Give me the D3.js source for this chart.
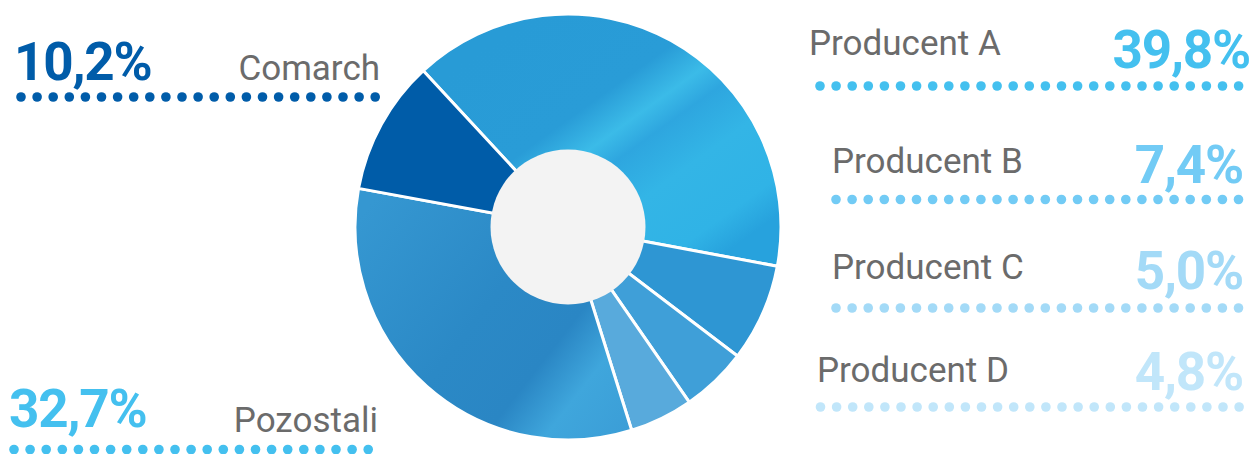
<!DOCTYPE html>
<html><head><meta charset="utf-8">
<script src="https://cdn.jsdelivr.net/npm/d3@7"></script>
<style>html,body{margin:0;padding:0;background:#fff;}svg{display:block;}</style>
</head><body>
<svg id="c" width="1254" height="454"></svg>
<script>
// Data (clockwise order starting at Producent A)
const categories = ["Producent A", "Producent B", "Producent C", "Producent D", "Pozostali", "Comarch"];
const values = [39.8, 7.4, 5.0, 4.8, 32.7, 10.2];
const valueLabels = ["39,8%", "7,4%", "5,0%", "4,8%", "32,7%", "10,2%"];

const sliceColors = ["url(#gA)", "#2e96d3", "#3f9fd8", "#58aadc", "url(#gP)", "#005ca8"];
const labelColors = ["#44c0ef", "#72cbf5", "#a3daf7", "#c1e6fa", "#44c0ef", "#005ca9"];

const svg = d3.select("#c");
const cx = 568, cy = 227, R = 213, r0 = 77.5;
const start = -42.8 * Math.PI / 180;

const defs = svg.append("defs");
// gradient coordinates are relative to the pie centre (paths live in a translated group)
const gA = defs.append("linearGradient").attr("id", "gA").attr("gradientUnits", "userSpaceOnUse")
  .attr("x1", -70).attr("y1", -190).attr("x2", 110).attr("y2", 60);
[[0, "#289bd6"], [0.35, "#299cd7"], [0.47, "#3bbbe8"], [0.55, "#2ea6df"], [0.7, "#33b5e6"], [0.9, "#30b3e6"], [1, "#27a2dd"]]
  .forEach(([o, c]) => gA.append("stop").attr("offset", o).attr("stop-color", c));
const gP = defs.append("linearGradient").attr("id", "gP").attr("gradientUnits", "userSpaceOnUse")
  .attr("x1", -200).attr("y1", -20).attr("x2", 70).attr("y2", 190);
[[0, "#3597d1"], [0.45, "#2b89c6"], [0.68, "#2a86c4"], [0.82, "#3fa6dc"], [1, "#3b9ed7"]]
  .forEach(([o, c]) => gP.append("stop").attr("offset", o).attr("stop-color", c));

const pie = d3.pie().sort(null).value(d => d).startAngle(start).endAngle(start + 2 * Math.PI);
const arc = d3.arc().innerRadius(0).outerRadius(R);
const g = svg.append("g").attr("transform", `translate(${cx},${cy})`);
g.selectAll("path").data(pie(values)).join("path")
  .attr("d", arc)
  .attr("fill", (d, i) => sliceColors[i])
  .attr("stroke", "#fff").attr("stroke-width", 3).attr("stroke-linejoin", "round");
g.append("circle").attr("r", r0).attr("fill", "#f3f3f3");

// Legend layout
const legend = [
  {nx: 809, ny: 55, na: "start", px: 1250, py: 68, pa: "end", d0: 820, n: 27, dy: 86},
  {nx: 832, ny: 173, na: "start", px: 1243, py: 183, pa: "end", d0: 836, n: 26, dy: 199.5},
  {nx: 832, ny: 279, na: "start", px: 1243, py: 289, pa: "end", d0: 836, n: 26, dy: 308},
  {nx: 817, ny: 382, na: "start", px: 1243, py: 390, pa: "end", d0: 820.5, n: 27, dy: 407},
  {nx: 378, ny: 432, na: "end", px: 9, py: 427, pa: "start", d0: 14, n: 23, dy: 449.5},
  {nx: 380, ny: 80, na: "end", px: 14, py: 79.5, pa: "start", d0: 21, n: 23, dy: 97}
];
const step = 16.1;
const font = "Roboto, 'DejaVu Sans', sans-serif";
legend.forEach((L, i) => {
  svg.append("text").attr("x", L.nx).attr("y", L.ny).attr("text-anchor", L.na)
    .attr("font-family", font).attr("font-size", 35).attr("fill", "#6b6b6b").text(categories[i]);
  svg.append("text").attr("x", L.px).attr("y", L.py).attr("text-anchor", L.pa)
    .attr("font-family", font).attr("font-weight", 700).attr("font-size", 53)
    .attr("letter-spacing", -1.2).attr("fill", labelColors[i]).text(valueLabels[i]);
  svg.append("g").selectAll("circle").data(d3.range(L.n)).join("circle")
    .attr("cx", k => L.d0 + k * step).attr("cy", L.dy).attr("r", 4.8)
    .attr("fill", labelColors[i]);
});
</script>
</body></html>
